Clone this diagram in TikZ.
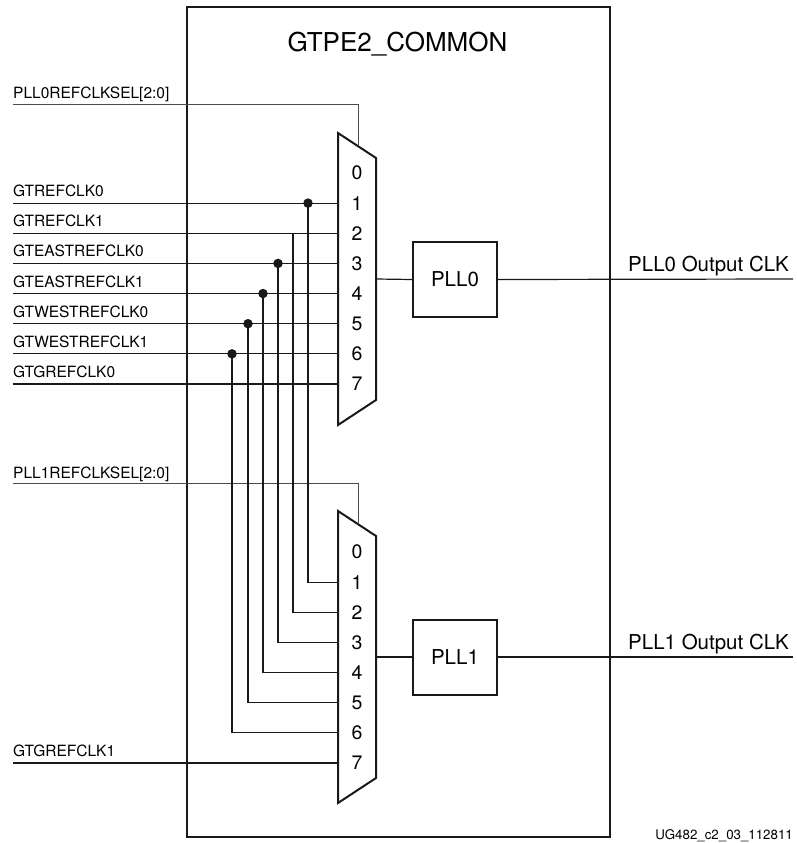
\documentclass[tikz,border=0pt]{standalone}
\usepackage{fontspec}
\setmainfont{TeX Gyre Heros}
\begin{document}
\begin{tikzpicture}[x=1pt,y=-1pt,
  wire/.style={line width=1.2pt, draw=black!90},
  selwire/.style={line width=1pt, draw=black!70},
  muxbody/.style={line width=2pt, line join=miter, draw=black!90},
  chipbox/.style={draw=black!90, line width=2.7pt, minimum width=423pt, minimum height=830pt, inner sep=0pt},
  pllbox/.style={draw=black!90, line width=2pt, minimum width=84pt, minimum height=75pt, inner sep=0pt, font=\fontsize{20.5}{24}\selectfont},
  inlabel/.style={anchor=base west, inner sep=0pt, font=\fontsize{15.5}{18}\selectfont},
  outlabel/.style={anchor=base west, inner sep=0pt, font=\fontsize{20.5}{24}\selectfont},
  pinnum/.style={inner sep=0pt, font=\fontsize{19.5}{22}\selectfont},
  jdot/.style={circle, fill=black!90, inner sep=0pt, minimum size=9.5pt}]
\useasboundingbox (0,0) rectangle (796,843);

% chip outline and title
\node[chipbox] (chip) at (398.5,422) {};
\node[anchor=base, inner sep=0pt, font=\fontsize{26}{30}\selectfont] (title) at (397.5,52) {GTPE2\_COMMON};

% multiplexers
\draw[muxbody] (338,133) -- (376,158) -- (376,400) -- (338,425) -- cycle;
\draw[muxbody] (338,511) -- (376,536) -- (376,778) -- (338,803) -- cycle;
\coordinate (mux0out) at (376,279);
\coordinate (mux1out) at (376,657);
\coordinate (mux0sel) at (358,146.2);
\coordinate (mux1sel) at (358,524.2);

\foreach \i in {0,...,7}{
  \coordinate (a\i) at (338,{173+30.14*\i});
  \coordinate (b\i) at (338,{552+30.14*\i});
  \node[pinnum] (na\i) at (357,{173+30.14*\i}) {\i};
  \node[pinnum] (nb\i) at (357,{552+30.14*\i}) {\i};
}

% PLLs
\node[pllbox] (pll0) at (455,279.5) {PLL0};
\node[pllbox] (pll1) at (455,657) {PLL1};
\coordinate (out0) at (793,279);
\coordinate (out1) at (793,657);
\draw[wire] (mux0out) -- (pll0.west);
\draw[wire] (mux1out) -- (pll1.west);
\draw[wire] (pll0.east) -- (out0);
\draw[wire] (pll1.east) -- (out1);
\node[outlabel] (o0lab) at (628,271) {PLL0 Output CLK};
\node[outlabel] (o1lab) at (628,649) {PLL1 Output CLK};

% select lines
\coordinate (s0) at (13,104);
\coordinate (s1) at (13,483);
\draw[selwire] (s0) -- (358,104) -- (mux0sel);
\draw[selwire] (s1) -- (358,483) -- (mux1sel);
\node[inlabel] (s0lab) at (13,99) {PLL0REFCLKSEL[2:0]};
\node[inlabel] (s1lab) at (13,478) {PLL1REFCLKSEL[2:0]};

% reference clock inputs
\foreach \i/\name in {1/GTREFCLK0,2/GTREFCLK1,3/GTEASTREFCLK0,4/GTEASTREFCLK1,5/GTWESTREFCLK0,6/GTWESTREFCLK1,7/GTGREFCLK0}{
  \coordinate (in\i) at (13,{173+30.14*\i});
  \draw[wire] (in\i) -- (a\i);
  \node[inlabel] (lab\i) at (13,{173+30.14*\i-6.5}) {\name};
}
\coordinate (in8) at (13,{552+30.14*7});
\draw[wire] (in8) -- (b7);
\node[inlabel] (lab8) at (13,{552+30.14*7-6.5}) {GTGREFCLK1};

% cross connections to the second multiplexer
\foreach \i/\x in {1/308,2/293,3/278,4/263,5/248,6/232}{
  \coordinate (t\i) at (\x,{173+30.14*\i});
  \draw[wire] (t\i) -- (\x,{552+30.14*\i}) -- (b\i);
}
\foreach \i in {1,3,4,5,6}{
  \node[jdot] (d\i) at (t\i) {};
}

% figure id
\node[anchor=base east, inner sep=0pt, font=\fontsize{13.3}{16}\selectfont] (figid) at (793,839) {UG482\_c2\_03\_112811};
\end{tikzpicture}
\end{document}
